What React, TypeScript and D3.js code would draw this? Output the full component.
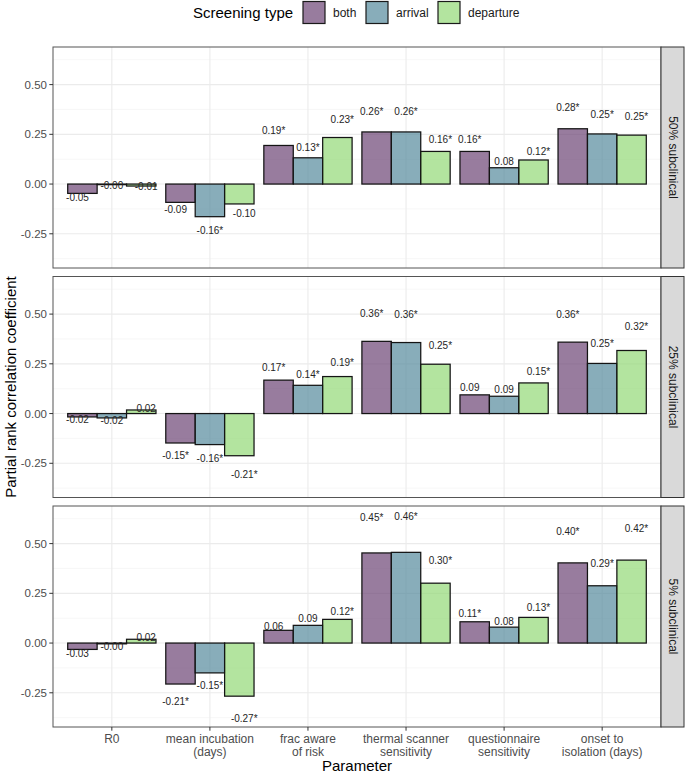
import React from "react";
import * as d3 from "d3";

const categories = [
  "R0",
  "mean incubation\n(days)",
  "frac aware\nof risk",
  "thermal scanner\nsensitivity",
  "questionnaire\nsensitivity",
  "onset to\nisolation (days)",
];
const screeningTypes = ["both", "arrival", "departure"];
const panelNames = ["50% subclinical", "25% subclinical", "5% subclinical"];

// 50% subclinical
const both50 = [-0.047, -0.092, 0.194, 0.262, 0.164, 0.278];
const arrival50 = [-0.003, -0.164, 0.132, 0.262, 0.082, 0.252];
const departure50 = [-0.01, -0.1, 0.234, 0.164, 0.121, 0.246];
const sigBoth50 = [0, 0, 1, 1, 1, 1];
const sigArrival50 = [0, 1, 1, 1, 0, 1];
const sigDeparture50 = [0, 0, 1, 1, 1, 1];
const labelBoth50 = [-0.067, -0.13, 0.268, 0.363, 0.226, 0.385];
const labelArrival50 = [-0.007, -0.235, 0.182, 0.363, 0.111, 0.352];
const labelDeparture50 = [-0.013, -0.146, 0.325, 0.226, 0.166, 0.342];

// 25% subclinical
const both25 = [-0.017, -0.148, 0.168, 0.363, 0.094, 0.359];
const arrival25 = [-0.022, -0.156, 0.142, 0.357, 0.087, 0.252];
const departure25 = [0.018, -0.212, 0.186, 0.248, 0.154, 0.317];
const sigBoth25 = [0, 1, 1, 1, 0, 1];
const sigArrival25 = [0, 1, 1, 1, 0, 1];
const sigDeparture25 = [0, 1, 1, 1, 1, 1];
const labelBoth25 = [-0.029, -0.212, 0.232, 0.503, 0.131, 0.5];
const labelArrival25 = [-0.037, -0.224, 0.194, 0.496, 0.121, 0.354];
const labelDeparture25 = [0.023, -0.304, 0.258, 0.344, 0.213, 0.44];

// 5% subclinical
const both5 = [-0.032, -0.206, 0.064, 0.453, 0.107, 0.403];
const arrival5 = [-0.004, -0.15, 0.089, 0.456, 0.08, 0.288];
const departure5 = [0.019, -0.267, 0.119, 0.301, 0.129, 0.417];
const sigBoth5 = [0, 1, 0, 1, 1, 1];
const sigArrival5 = [0, 1, 0, 1, 0, 1];
const sigDeparture5 = [0, 1, 1, 1, 1, 1];
const labelBoth5 = [-0.053, -0.296, 0.084, 0.632, 0.147, 0.562];
const labelArrival5 = [-0.015, -0.214, 0.122, 0.635, 0.109, 0.398];
const labelDeparture5 = [0.027, -0.38, 0.16, 0.415, 0.178, 0.575];

const yTicks = [-0.25, 0, 0.25, 0.5];
const yMinor = [-0.375, -0.125, 0.125, 0.375, 0.625];

const panelData = [
  {
    values: [both50, arrival50, departure50],
    sig: [sigBoth50, sigArrival50, sigDeparture50],
    labelY: [labelBoth50, labelArrival50, labelDeparture50],
  },
  {
    values: [both25, arrival25, departure25],
    sig: [sigBoth25, sigArrival25, sigDeparture25],
    labelY: [labelBoth25, labelArrival25, labelDeparture25],
  },
  {
    values: [both5, arrival5, departure5],
    sig: [sigBoth5, sigArrival5, sigDeparture5],
    labelY: [labelBoth5, labelArrival5, labelDeparture5],
  },
];

const baseColors = ["#6c4575", "#568a9c", "#93d876"];
const fillOpacity = 0.7;

const W = 685;
const H = 774;
const left = 53;
const right = 661;
const stripW = 23;
const panelTops = [47, 276.5, 506];
const panelH = 221;
const font = "'Liberation Sans', Arial, Helvetica, sans-serif";

export default function App() {
  const x = d3
    .scalePoint<string>()
    .domain(categories)
    .range([left, right])
    .padding(0.6);
  const step = x.step();
  const barW = (0.9 * step) / 3;
  const textDodge = 0.35 * step;

  return (
    <svg
      width={W}
      height={H}
      style={{ position: "absolute", left: 0, top: 0, fontFamily: font }}
    >
      <rect x={0} y={0} width={W} height={H} fill="#fff" />
      {/* legend */}
      <g>
        <text x={193} y={18} fontSize={15} fill="#000">
          Screening type
        </text>
        {screeningTypes.map((s, i) => {
          const kx = [303, 366, 438][i];
          return (
            <g key={s}>
              <rect x={kx} y={1.5} width={22} height={22} fill="#fff" />
              <rect
                x={kx}
                y={1.5}
                width={22}
                height={22}
                fill={baseColors[i]}
                fillOpacity={fillOpacity}
                stroke="#1a1a1a"
                strokeWidth={1.2}
              />
              <text x={kx + 30} y={16.5} fontSize={12} fill="#1a1a1a">
                {s}
              </text>
            </g>
          );
        })}
      </g>

      {panelData.map((pd, pi) => {
        const top = panelTops[pi];
        const y = d3
          .scaleLinear()
          .domain([-0.422, 0.689])
          .range([top + panelH, top]);
        return (
          <g key={pi}>
            <rect x={left} y={top} width={right - left} height={panelH} fill="#fff" />
            {yMinor.map((t) => (
              <line
                key={"mn" + t}
                x1={left}
                x2={right}
                y1={y(t)}
                y2={y(t)}
                stroke="#f2f2f2"
                strokeWidth={0.6}
              />
            ))}
            {yTicks.map((t) => (
              <line
                key={"mj" + t}
                x1={left}
                x2={right}
                y1={y(t)}
                y2={y(t)}
                stroke="#ebebeb"
                strokeWidth={1.1}
              />
            ))}
            {categories.map((c) => (
              <line
                key={"v" + c}
                x1={x(c)}
                x2={x(c)}
                y1={top}
                y2={top + panelH}
                stroke="#ebebeb"
                strokeWidth={1.1}
              />
            ))}
            {/* bars */}
            {pd.values.map((vals, si) =>
              vals.map((v, ci) => {
                const cx = (x(categories[ci]) as number) + (si - 1) * barW;
                const y0 = y(0);
                const y1 = y(v);
                return (
                  <rect
                    key={"b" + si + "-" + ci}
                    x={cx - barW / 2}
                    y={Math.min(y0, y1)}
                    width={barW}
                    height={Math.max(Math.abs(y1 - y0), 0.01)}
                    fill={baseColors[si]}
                    fillOpacity={fillOpacity}
                    stroke="#141414"
                    strokeWidth={1.25}
                  />
                );
              })
            )}
            {/* labels */}
            {pd.values.map((vals, si) =>
              vals.map((v, ci) => {
                const cx = (x(categories[ci]) as number) + (si - 1) * textDodge;
                return (
                  <text
                    key={"t" + si + "-" + ci}
                    x={cx}
                    y={y(pd.labelY[si][ci])}
                    textAnchor="middle"
                    dominantBaseline="central"
                    fontSize={10}
                    fill="#262626"
                  >
                    {v.toFixed(2) + (pd.sig[si][ci] ? "*" : "")}
                  </text>
                );
              })
            )}
            <rect
              x={left}
              y={top}
              width={right - left}
              height={panelH}
              fill="none"
              stroke="#555"
              strokeWidth={1}
            />
            {/* y axis */}
            {yTicks.map((t) => (
              <g key={"yt" + t}>
                <line x1={left - 3.7} x2={left} y1={y(t)} y2={y(t)} stroke="#333" strokeWidth={1} />
                <text
                  x={left - 6}
                  y={y(t)}
                  textAnchor="end"
                  dominantBaseline="central"
                  fontSize={11.5}
                  fill="#4d4d4d"
                >
                  {t.toFixed(2)}
                </text>
              </g>
            ))}
            {/* strip */}
            <rect
              x={right}
              y={top}
              width={stripW}
              height={panelH}
              fill="#d9d9d9"
              stroke="#333"
              strokeWidth={1}
            />
            <text
              transform={`translate(${right + stripW / 2},${top + panelH / 2}) rotate(90)`}
              textAnchor="middle"
              dominantBaseline="central"
              fontSize={12}
              fill="#1a1a1a"
            >
              {panelNames[pi]}
            </text>
          </g>
        );
      })}

      {/* x axis */}
      {categories.map((c) => {
        const bottom = panelTops[2] + panelH;
        const lines = c.split("\n");
        return (
          <g key={"xa" + c}>
            <line x1={x(c)} x2={x(c)} y1={bottom} y2={bottom + 3.7} stroke="#333" strokeWidth={1} />
            {lines.map((l, li) => (
              <text
                key={li}
                x={x(c)}
                y={bottom + 16 + li * 13.2}
                textAnchor="middle"
                fontSize={12}
                fill="#4d4d4d"
              >
                {l}
              </text>
            ))}
          </g>
        );
      })}
      <text x={(left + right) / 2} y={771} textAnchor="middle" fontSize={15} fill="#000">
        Parameter
      </text>
      <text
        transform={`translate(16,${(panelTops[0] + panelTops[2] + panelH) / 2}) rotate(-90)`}
        textAnchor="middle"
        fontSize={15}
        fill="#000"
      >
        Partial rank correlation coefficient
      </text>
    </svg>
  );
}
